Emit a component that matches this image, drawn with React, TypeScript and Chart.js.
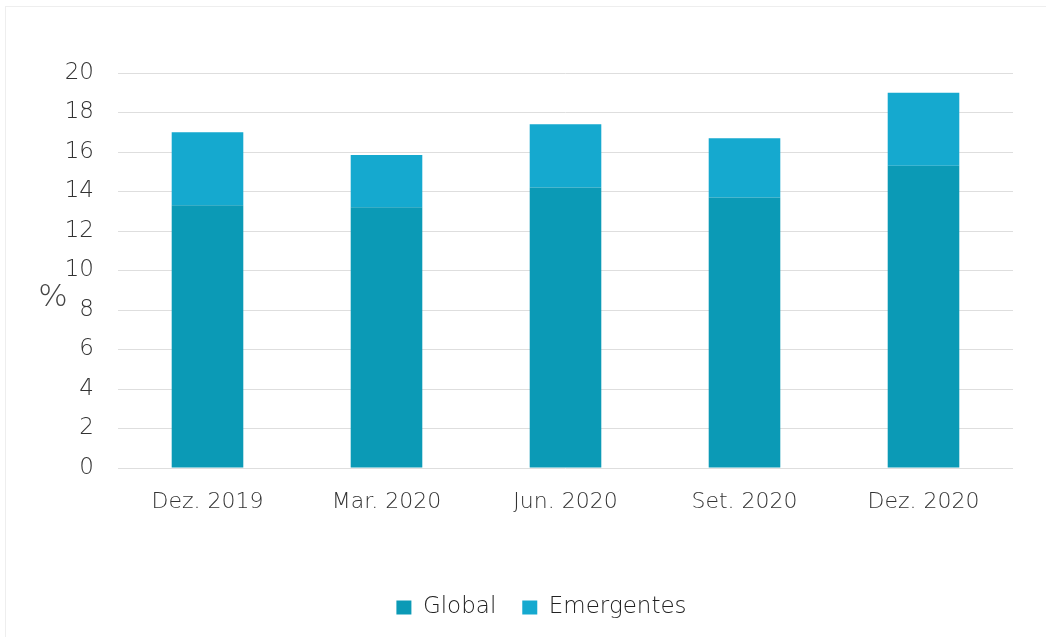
import React, { useEffect, useRef } from "react";
import { Chart, registerables } from "chart.js";

Chart.register(...registerables);

const categories = ["Dez. 2019", "Mar. 2020", "Jun. 2020", "Set. 2020", "Dez. 2020"];
const globalValues = [13.3, 13.2, 14.2, 13.7, 15.3];
const emergentesValues = [3.7, 2.65, 3.2, 3.0, 3.7];
const yTicks = [0, 2, 4, 6, 8, 10, 12, 14, 16, 18, 20];
const seriesNames = ["Global", "Emergentes"];
const yAxisLabel = "%";

const FONT = "'DejaVu Sans', 'Open Sans', sans-serif";

const percentPlugin = {
  id: "percentLabel",
  afterLayout(chart: any) {
    if (chart.legend) {
      chart.legend.left += 25;
      chart.legend.right += 25;
    }
  },
  afterDraw(chart: any) {
    const ctx = chart.ctx;
    const y = chart.scales.y;
    ctx.save();
    ctx.font = `200 31px ${FONT}`;
    ctx.fillStyle = "#444";
    ctx.textAlign = "center";
    ctx.textBaseline = "middle";
    ctx.fillText(yAxisLabel, 53, y.getPixelForValue(8.6));
    ctx.restore();
  },
};

export default function App() {
  const ref = useRef<HTMLCanvasElement | null>(null);
  useEffect(() => {
    document.body.style.margin = "0";
    const chart = new Chart(ref.current as HTMLCanvasElement, {
      type: "bar",
      data: {
        labels: categories,
        datasets: [
          { label: seriesNames[0], data: globalValues, backgroundColor: "#0b9ab6" },
          { label: seriesNames[1], data: emergentesValues, backgroundColor: "#15a9cf" },
        ],
      },
      options: {
        animation: false,
        responsive: false,
        layout: { padding: { left: 20, right: 38, top: 73, bottom: 8 } },
        datasets: { bar: { categoryPercentage: 1, barPercentage: 0.4 } },
        scales: {
          x: {
            stacked: true,
            grid: { display: false },
            border: { display: false },
            ticks: { color: "#333", font: { family: FONT, size: 22, weight: 200 }, padding: 13 },
            afterFit(scale: any) {
              scale.height = 102;
            },
          },
          y: {
            stacked: true,
            min: 0,
            max: 20,
            afterBuildTicks(scale: any) {
              scale.ticks = yTicks.map((v) => ({ value: v }));
            },
            afterFit(scale: any) {
              scale.width = 98;
            },
            grid: { color: "#dedede", lineWidth: 1, drawTicks: false },
            border: { display: false },
            ticks: { color: "#333", font: { family: FONT, size: 23, weight: 200 }, padding: 24 },
          },
        },
        plugins: {
          legend: {
            position: "bottom",
            labels: {
              color: "#222",
              font: { family: FONT, size: 23, weight: 200 },
              boxWidth: 15,
              boxHeight: 14,
              padding: 26,
            },
          },
          tooltip: { enabled: false },
        },
      },
      plugins: [percentPlugin],
    });
    return () => chart.destroy();
  }, []);
  return (
    <div style={{ width: 1051, height: 637, position: "relative", background: "#fff" }}>
      <div style={{ position: "absolute", left: 5, top: 6, width: 1040, height: 640, borderTop: "1px solid #eee", borderLeft: "1px solid #eee" }} />
      <canvas ref={ref} width={1051} height={637} style={{ position: "absolute", left: 0, top: 0 }} />
    </div>
  );
}
